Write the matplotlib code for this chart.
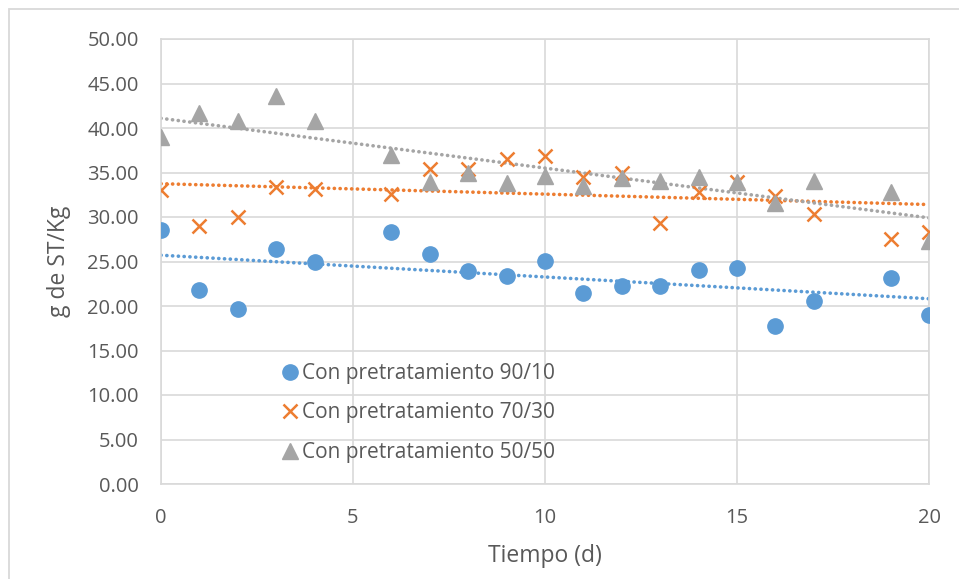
import numpy as np
import matplotlib
matplotlib.use('Agg')
import matplotlib.pyplot as plt
from matplotlib.patches import Rectangle

plt.rcParams['font.family'] = ['Open Sans', 'DejaVu Sans']

# dias de muestreo (no hay dato en el dia 5 ni en el 18)
dias = [0, 1, 2, 3, 4, 6, 7, 8, 9, 10, 11, 12, 13, 14, 15, 16, 17, 19, 20]

st_90_10 = [28.5, 21.8, 19.7, 26.4, 25.0, 28.3, 25.8, 23.9, 23.4, 25.1,
            21.5, 22.2, 22.3, 24.1, 24.3, 17.7, 20.6, 23.1, 19.0]
st_70_30 = [33.0, 29.0, 30.0, 33.4, 33.1, 32.6, 35.4, 35.4, 36.5, 36.9,
            34.5, 34.9, 29.3, 32.8, 33.9, 32.4, 30.3, 27.5, 28.3]
st_50_50 = [39.0, 41.7, 40.8, 43.6, 40.8, 37.0, 33.9, 34.9, 33.8, 34.6,
            33.5, 34.4, 34.0, 34.5, 33.9, 31.6, 34.0, 32.8, 27.3]

series = [
    ('Con pretratamiento 90/10', st_90_10, '#5B9BD5', 'o'),
    ('Con pretratamiento 70/30', st_70_30, '#ED7D31', 'x'),
    ('Con pretratamiento 50/50', st_50_50, '#A5A5A5', '^'),
]

texto = '#595959'
rejilla = '#D9D9D9'

fig = plt.figure(figsize=(9.59, 5.79), dpi=100)
ax = fig.add_axes([161 / 959, 1 - 484 / 579, (929 - 161) / 959, (484 - 39) / 579])

# marco del grafico (se sale por la derecha y por abajo)
fig.patches.append(Rectangle((9 / 959, -0.05), 1.0, 1 - 9 / 579 + 0.05,
                             transform=fig.transFigure, fill=False,
                             edgecolor='#D9D9D9', linewidth=1.3, zorder=0))

x = np.array(dias)
for nombre, valores, color, marca in series:
    if marca == 'x':
        ax.plot(x, valores, linestyle='none', marker='x', markersize=10,
                markeredgewidth=1.8, color=color, label=nombre, zorder=3)
    elif marca == '^':
        ax.plot(x, valores, linestyle='none', marker='^', markersize=11,
                color=color, label=nombre, zorder=3)
    else:
        ax.plot(x, valores, linestyle='none', marker='o', markersize=11,
                color=color, label=nombre, zorder=3)
    # linea de tendencia lineal
    m, b = np.polyfit(x, valores, 1)
    xt = np.array([0, 20])
    ax.plot(xt, m * xt + b, color=color, linewidth=2.6, linestyle=(0, (0.05, 1.55)),
            dash_capstyle='round', label='_nolegend_', zorder=2)

ax.set_xlim(0, 20)
ax.set_ylim(0, 50)
ax.set_xticks([0, 5, 10, 15, 20])
ax.set_yticks(np.arange(0, 50.1, 5))
ax.set_yticklabels(['%.2f' % v for v in np.arange(0, 50.1, 5)])
ax.grid(True, color=rejilla, linewidth=1.2)
ax.set_axisbelow(True)
for s in ax.spines.values():
    s.set_color(rejilla)
    s.set_linewidth(1.2)
ax.tick_params(length=0, labelsize=14.5, colors=texto)
ax.tick_params(axis='y', pad=16)
ax.tick_params(axis='x', pad=17)

ax.set_xlabel('Tiempo (d)', fontsize=16.5, color=texto, labelpad=12)
ax.set_ylabel('g de ST/Kg', fontsize=16.5, color=texto, labelpad=12)

ax.legend(loc='upper left', bbox_to_anchor=(0.1405, 0.295), frameon=False,
          fontsize=15, labelcolor=texto, handletextpad=0.1, labelspacing=0.88,
          handlelength=1.0, borderpad=0)

fig.savefig('out.png', dpi=100)
